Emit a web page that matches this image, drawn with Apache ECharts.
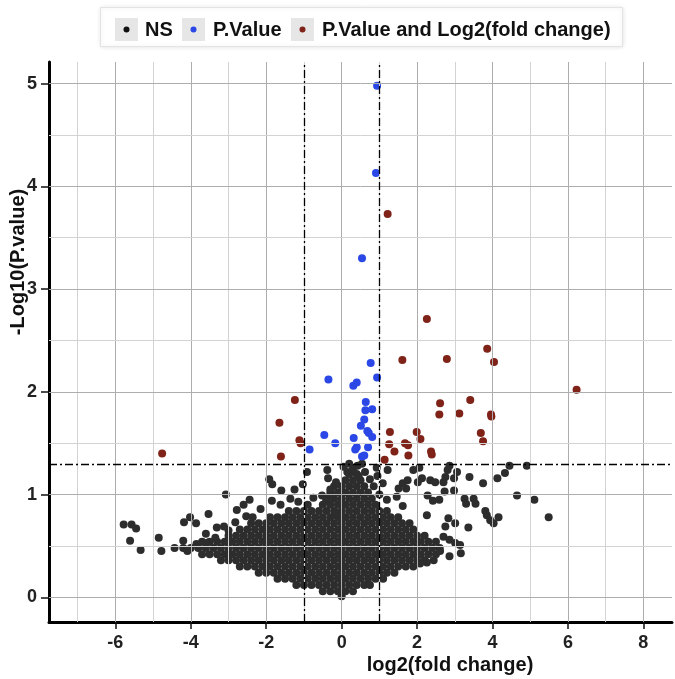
<!DOCTYPE html>
<html>
<head>
<meta charset="utf-8">
<script src="https://cdn.jsdelivr.net/npm/echarts@6/dist/echarts.min.js"></script>
<style>
html,body{margin:0;padding:0;background:#fff;}
#c{width:675px;height:679px;}
</style>
</head>
<body>
<div id="c"></div>
<script>
// ---------- data ----------
const seriesNames = ['NS', 'P.Value', 'P.Value and Log2(fold change)'];
const xTickValues = [-6, -4, -2, 0, 2, 4, 6, 8];
const yTickValues = [0, 1, 2, 3, 4, 5];
const xGridMinor = [-7, -5, -3, -1, 1, 3, 5, 7];
const yGridMinor = [0.5, 1.5, 2.5, 3.5, 4.5];
const pThreshold = 1.3;
const fcThresholds = [-1, 1];

// significant by P value only (blue)
const pValuePoints = [
  [0.94,4.98],[0.91,4.13],[0.54,3.30],[0.77,2.28],[-0.35,2.12],[0.94,2.14],[0.31,2.06],[0.40,2.09],
  [0.64,1.90],[0.63,1.82],[0.81,1.83],[0.60,1.73],[0.51,1.67],[0.68,1.62],[0.72,1.60],[0.81,1.56],
  [-0.46,1.58],[-0.17,1.50],[0.32,1.55],[0.70,1.46],[0.36,1.44],[0.40,1.46],[-0.85,1.44],[0.54,1.37],[0.60,1.38]
];

// significant by P value and fold change (red)
const bothPoints = [
  [1.22,3.73],[2.26,2.71],[1.61,2.31],[2.79,2.32],[3.86,2.42],[4.04,2.29],[6.23,2.02],[-1.24,1.92],
  [2.61,1.89],[3.41,1.92],[2.59,1.78],[3.12,1.79],[3.96,1.78],[3.97,1.76],[-1.65,1.70],[1.28,1.61],
  [1.99,1.61],[2.09,1.54],[3.69,1.60],[3.75,1.52],[-1.12,1.53],[-1.09,1.50],[1.26,1.49],[1.68,1.50],
  [1.76,1.48],[1.40,1.42],[1.77,1.38],[2.37,1.42],[2.39,1.39],[-1.61,1.37],[1.14,1.34],[-4.76,1.40]
];

// not significant, scattered points
const nsScatter = [
  [-0.92,1.22],[-0.38,1.24],[-0.36,1.16],[-1.92,1.15],[-1.84,1.10],[-1.60,1.04],[-1.25,1.05],[-1.03,1.10],
  [-3.07,1.00],[-2.44,0.95],[-1.85,0.94],[-1.36,0.96],[-2.60,0.90],[-2.78,0.85],[-0.90,0.90],[-0.52,0.99],
  [-0.32,0.98],[-0.41,0.94],[-3.53,0.81],[-2.53,0.79],[-2.36,0.78],[-4.02,0.78],[-4.18,0.73],[-3.86,0.72],
  [-5.78,0.71],[-5.57,0.71],[-5.45,0.67],[-5.61,0.55],[-5.33,0.46],[-4.85,0.58],[-4.78,0.45],[-4.43,0.48],
  [-4.20,0.55],[-4.09,0.45],[-3.60,0.62],[-3.31,0.68],[-3.12,0.69],[-2.82,0.73],[-3.00,0.65],[-3.59,0.53],
  [-0.15,0.82],[-2.15,0.86],[-1.62,0.90],[-1.15,0.93],[-0.75,0.97],[-3.35,0.58],[-3.85,0.52],
  [0.54,1.30],[0.93,1.26],[1.22,1.24],[1.90,1.24],[2.06,1.26],[2.86,1.28],[2.81,1.24],[3.06,1.22],
  [2.75,1.17],[2.70,1.12],[2.98,1.16],[3.39,1.17],[3.75,1.11],[4.13,1.16],[4.33,1.21],[4.45,1.28],
  [4.91,1.28],[4.65,0.99],[5.11,0.95],[5.49,0.78],[1.75,1.14],[2.13,1.16],[2.35,1.14],[2.48,1.12],
  [2.02,1.12],[1.51,1.06],[1.71,1.06],[1.62,1.11],[1.09,1.11],[1.46,0.98],[2.28,0.99],[2.73,1.03],
  [2.98,1.04],[2.42,0.94],[2.59,0.95],[3.26,0.96],[3.30,0.91],[3.50,0.96],[3.55,0.91],[1.62,0.89],
  [3.81,0.84],[3.85,0.80],[3.94,0.75],[4.03,0.72],[4.16,0.78],[3.36,0.68],[2.83,0.77],[3.01,0.72],
  [2.75,0.69],[2.26,0.80],[2.70,0.59],[2.86,0.56],[3.01,0.53],[3.14,0.51],[3.16,0.43],[2.86,0.40],
  [2.61,0.45],[2.44,0.36],[2.26,0.34],[2.08,0.33],
  [0.05,1.27],[0.15,1.22],[0.30,1.25],[0.45,1.18],[0.62,1.22],[0.75,1.15],[0.85,1.08],[-0.15,1.12],
  [-0.30,1.05],[0.20,1.30],[0.42,1.28],[1.00,1.00],[1.20,0.95],[0.95,1.18]
];

// not significant, dense cloud read row by row (y of each row, x positions in it)
const nsDenseY = [0.01,0.06,0.12,0.18,0.24,0.30,0.36,0.42,0.48,0.54,0.60,0.66,0.72,0.78,0.84,0.90,0.96,1.02,1.08,1.14,1.20];
const nsDenseX = [
  [0.0],
  [-0.5,-0.3,-0.1,0.1,0.3],
  [-1.2,-1.0,-0.8,-0.6,-0.4,-0.2,0.0,0.2,0.4,0.6,0.75],
  [-1.7,-1.5,-1.3,-1.1,-0.9,-0.7,-0.5,-0.3,-0.1,0.1,0.3,0.5,0.7,0.9,1.1],
  [-2.2,-2.0,-1.8,-1.6,-1.4,-1.2,-1.0,-0.8,-0.6,-0.4,-0.2,0.0,0.2,0.4,0.6,0.8,1.0,1.2,1.4],
  [-2.7,-2.5,-2.3,-2.1,-1.9,-1.7,-1.5,-1.3,-1.1,-0.9,-0.7,-0.5,-0.3,-0.1,0.1,0.3,0.5,0.7,0.9,1.1,1.3,1.5,1.7,1.9],
  [-3.2,-3.0,-2.8,-2.6,-2.4,-2.2,-2.0,-1.8,-1.6,-1.4,-1.2,-1.0,-0.8,-0.6,-0.4,-0.2,0.0,0.2,0.4,0.6,0.8,1.0,1.2,1.4,1.6,1.8,2.0,2.2],
  [-3.7,-3.5,-3.3,-3.1,-2.9,-2.7,-2.5,-2.3,-2.1,-1.9,-1.7,-1.5,-1.3,-1.1,-0.9,-0.7,-0.5,-0.3,-0.1,0.1,0.3,0.5,0.7,0.9,1.1,1.3,1.5,1.7,1.9,2.1,2.3,2.5],
  [-4.2,-4.0,-3.8,-3.6,-3.4,-3.2,-3.0,-2.8,-2.6,-2.4,-2.2,-2.0,-1.8,-1.6,-1.4,-1.2,-1.0,-0.8,-0.6,-0.4,-0.2,0.0,0.2,0.4,0.6,0.8,1.0,1.2,1.4,1.6,1.8,2.0,2.2,2.4,2.6],
  [-3.7,-3.5,-3.3,-3.1,-2.9,-2.7,-2.5,-2.3,-2.1,-1.9,-1.7,-1.5,-1.3,-1.1,-0.9,-0.7,-0.5,-0.3,-0.1,0.1,0.3,0.5,0.7,0.9,1.1,1.3,1.5,1.7,1.9,2.1,2.3,2.5],
  [-3.0,-2.8,-2.6,-2.4,-2.2,-2.0,-1.8,-1.6,-1.4,-1.2,-1.0,-0.8,-0.6,-0.4,-0.2,0.0,0.2,0.4,0.6,0.8,1.0,1.2,1.4,1.6,1.8,2.0,2.2],
  [-2.7,-2.5,-2.3,-2.1,-1.9,-1.7,-1.5,-1.3,-1.1,-0.9,-0.7,-0.5,-0.3,-0.1,0.1,0.3,0.5,0.7,0.9,1.1,1.3,1.5,1.7,1.9],
  [-2.4,-2.2,-2.0,-1.8,-1.6,-1.4,-1.2,-1.0,-0.8,-0.6,-0.4,-0.2,0.0,0.2,0.4,0.6,0.8,1.0,1.2,1.4,1.6,1.8],
  [-1.9,-1.7,-1.5,-1.3,-1.1,-0.9,-0.7,-0.5,-0.3,-0.1,0.1,0.3,0.5,0.7,0.9,1.1,1.3,1.5],
  [-1.4,-1.2,-1.0,-0.8,-0.6,-0.4,-0.2,0.0,0.2,0.4,0.6,0.8,1.0,1.2],
  [-0.5,-0.3,-0.1,0.1,0.3,0.5,0.7,0.9],
  [-0.4,-0.2,0.0,0.2,0.4,0.6,0.8],
  [-0.3,-0.1,0.1,0.3,0.5,0.7],
  [-0.2,0.0,0.2,0.4,0.6],
  [0.1,0.3,0.5],
  [0.2,0.4]
];

// ---------- build ----------
const nsPoints = [];
nsDenseY.forEach((y, i) => nsDenseX[i].forEach(x => nsPoints.push([x, y])));
nsScatter.forEach(p => nsPoints.push(p));

const FONT = 'Liberation Sans, Arial, sans-serif';
const colors = ['#2d2d2d', '#2b48e6', '#7f2319'];

const gridLines = [];
xTickValues.forEach(v => gridLines.push({xAxis: v, lineStyle: {color: '#adadad', width: 1, type: 'solid'}}));
xGridMinor.forEach(v => gridLines.push({xAxis: v, lineStyle: {color: '#d3d3d3', width: 1, type: 'solid'}}));
yTickValues.forEach(v => gridLines.push({yAxis: v, lineStyle: {color: '#adadad', width: 1, type: 'solid'}}));
yGridMinor.forEach(v => gridLines.push({yAxis: v, lineStyle: {color: '#d3d3d3', width: 1, type: 'solid'}}));

const thrLines = [];
fcThresholds.forEach(v => thrLines.push({xAxis: v}));
thrLines.push({yAxis: pThreshold});

const chart = echarts.init(document.getElementById('c'), null, {renderer: 'canvas'});

const legendItems = [
  {keyX: 115, textX: 145, color: '#111111', name: seriesNames[0]},
  {keyX: 182, textX: 213, color: colors[1], name: seriesNames[1]},
  {keyX: 291, textX: 322, color: colors[2], name: seriesNames[2]}
];
const graphics = [
  {type: 'rect', shape: {x: 100.5, y: 7.5, width: 522, height: 39}, style: {fill: '#fff', stroke: '#e4e4e4', lineWidth: 1, shadowBlur: 4, shadowColor: 'rgba(0,0,0,0.10)'}, z: 10}
];
legendItems.forEach(it => {
  graphics.push({type: 'rect', shape: {x: it.keyX, y: 18, width: 23, height: 23}, style: {fill: '#e6e6e6'}, z: 11});
  graphics.push({type: 'circle', shape: {cx: it.keyX + 11.5, cy: 29.5, r: 3}, style: {fill: it.color}, z: 12});
  graphics.push({type: 'text', x: it.textX, y: 30, style: {text: it.name, fontFamily: FONT, fontWeight: 'bold', fontSize: 20, fill: '#111', align: 'left', verticalAlign: 'middle'}, z: 12});
});
graphics.push({type: 'text', x: 450, y: 665, style: {text: 'log2(fold change)', fontFamily: FONT, fontWeight: 'bold', fontSize: 20, fill: '#111', align: 'center', verticalAlign: 'middle'}});
graphics.push({type: 'text', x: 18, y: 262, rotation: Math.PI / 2, style: {text: '-Log10(P.value)', fontFamily: FONT, fontWeight: 'bold', fontSize: 20, fill: '#111', align: 'center', verticalAlign: 'middle'}});

chart.setOption({
  animation: false,
  backgroundColor: '#ffffff',
  grid: {left: 49, top: 62, right: 3, bottom: 57, containLabel: false},
  xAxis: {
    type: 'value', min: -7.76, max: 8.76,
    axisLine: {show: true, onZero: false, lineStyle: {color: '#000', width: 3}},
    axisTick: {show: true, customValues: xTickValues, length: 7, lineStyle: {color: '#111', width: 1.5}},
    axisLabel: {show: true, customValues: xTickValues, margin: 12, fontFamily: FONT, fontWeight: 'bold', fontSize: 18, color: '#222'},
    splitLine: {show: false}
  },
  yAxis: {
    type: 'value', min: -0.24, max: 5.21,
    axisLine: {show: true, onZero: false, lineStyle: {color: '#000', width: 3}},
    axisTick: {show: true, customValues: yTickValues, length: 8, lineStyle: {color: '#111', width: 1.5}},
    axisLabel: {show: true, customValues: yTickValues, margin: 12, fontFamily: FONT, fontWeight: 'bold', fontSize: 18, color: '#222'},
    splitLine: {show: false}
  },
  graphic: graphics,
  series: [
    {
      name: 'grid', type: 'scatter', data: [], z: 0, silent: true,
      markLine: {silent: true, symbol: ['none', 'none'], label: {show: false}, animation: false, data: gridLines}
    },
    {name: seriesNames[0], type: 'scatter', data: nsPoints, symbolSize: 8, itemStyle: {color: colors[0], opacity: 1}, z: 2},
    {name: seriesNames[1], type: 'scatter', data: pValuePoints, symbolSize: 8, itemStyle: {color: colors[1], opacity: 1}, z: 3},
    {name: seriesNames[2], type: 'scatter', data: bothPoints, symbolSize: 8, itemStyle: {color: colors[2], opacity: 1}, z: 3},
    {
      name: 'threshold', type: 'scatter', data: [], z: 6, silent: true,
      markLine: {silent: true, symbol: ['none', 'none'], label: {show: false}, animation: false,
        lineStyle: {color: '#000', width: 1.3, type: [8, 3, 2, 3]}, data: thrLines}
    }
  ]
});
</script>
</body>
</html>
